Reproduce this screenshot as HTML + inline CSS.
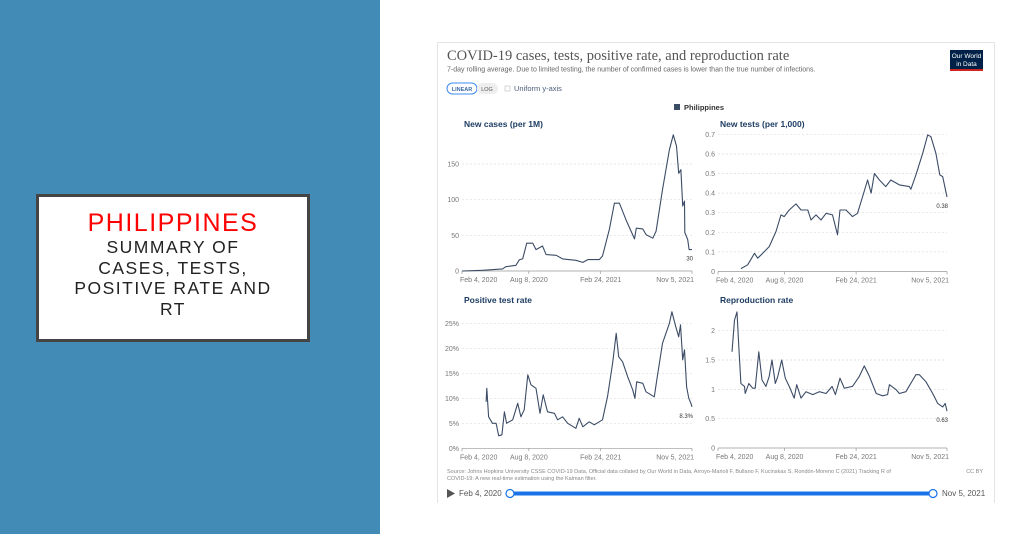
<!DOCTYPE html>
<html><head><meta charset="utf-8">
<style>
body{margin:0;width:1023px;height:534px;overflow:hidden;background:#fff;font-family:"Liberation Sans",sans-serif;position:relative}
#left{position:absolute;left:0;top:0;width:380px;height:534px;background:#428bb6}
#box{position:absolute;left:36px;top:194px;width:268px;height:142px;background:#fff;border:3px solid #444;text-align:center}
#box .t1{color:#f00;font-size:25px;letter-spacing:1.5px;margin-top:12px;line-height:28px}
#box .t2{color:#222;font-size:17.5px;letter-spacing:1.5px;line-height:20.5px}
#card{position:absolute;left:437px;top:42px;width:556px;height:460px;border:1px solid #e4e4e4;border-bottom:none}
svg{position:absolute;left:0;top:0}
</style></head><body>
<div id="left"></div>
<div id="box">
<div class="t1">PHILIPPINES</div>
<div class="t2">SUMMARY OF<br>CASES, TESTS,<br>POSITIVE RATE AND<br>RT</div>
</div>
<div id="card"></div>
<svg id="chart" width="1023" height="534">
<text x="447" y="60" font-family="Liberation Serif,serif" font-size="14.5" fill="#555">COVID-19 cases, tests, positive rate, and reproduction rate</text>
<text x="447" y="71.5" font-size="7" fill="#666">7-day rolling average. Due to limited testing, the number of confirmed cases is lower than the true number of infections.</text>
<g><rect x="950" y="50" width="33" height="20" fill="#002147"/><rect x="950" y="69" width="33" height="2" fill="#ce261e"/>
<text x="966.5" y="58" font-size="6.5" fill="#fff" text-anchor="middle">Our World</text><text x="966.5" y="66" font-size="6.5" fill="#fff" text-anchor="middle">in Data</text></g>
<g><rect x="447" y="83" width="30" height="11" rx="5.5" fill="#fff" stroke="#3d8cf0"/><text x="462" y="91" font-size="5.5" fill="#3d6aa8" text-anchor="middle" font-weight="bold">LINEAR</text></g>
<g><rect x="477" y="83" width="21" height="11" rx="5.5" fill="#eee"/><text x="487" y="91" font-size="5.5" fill="#555" text-anchor="middle">LOG</text></g>
<g><rect x="505" y="86" width="5" height="5" fill="#fff" stroke="#bbb" stroke-width="0.6"/><text x="514" y="91" font-size="7.5" fill="#4a5d7a">Uniform y-axis</text></g>
<g><rect x="674" y="104" width="6" height="6" fill="#3c4c66"/><text x="684" y="110" font-size="7.5" fill="#333" font-weight="bold">Philippines</text></g>
<g id="panels"></g>
<text x="447" y="473" font-size="5.5" fill="#888">Source: Johns Hopkins University CSSE COVID-19 Data, Official data collated by Our World in Data, Arroyo-Marioli F, Bullano F, Kucinskas S, Rondón-Moreno C (2021) Tracking R of</text>
<text x="447" y="480" font-size="5.5" fill="#888">COVID-19: A new real-time estimation using the Kalman filter.</text>
<text x="983" y="473" font-size="5.5" fill="#888" text-anchor="end">CC BY</text>
<polygon points="447,489 447,498 455,493.5" fill="#555"/>
<text x="459" y="496" font-size="8" fill="#555">Feb 4, 2020</text>
<line x1="510" y1="493.5" x2="933" y2="493.5" stroke="#1a73e8" stroke-width="4"/>
<circle cx="510" cy="493.5" r="4" fill="#fff" stroke="#1a73e8" stroke-width="1.2"/>
<circle cx="933" cy="493.5" r="4" fill="#fff" stroke="#1a73e8" stroke-width="1.2"/>
<text x="942" y="496" font-size="8" fill="#555">Nov 5, 2021</text>
</svg>
<script>
const xTickDays=[0,186,386,640];
const xTickLabels=["Feb 4, 2020","Aug 8, 2020","Feb 24, 2021","Nov 5, 2021"];
const casesDays=[0,57,113,122,150,160,169,180,197,206,224,234,262,280,317,336,350,382,391,410,424,438,456,480,485,503,512,531,540,558,577,588,597,603,609,614,619,620,628,632,640];
const casesVals=[0,1,3,6,8,16,17,39,39,30,35,23,22,17,15,12,16,16,21,58,95,95,72,45,60,59,51,46,56,114,170,191,175,137,142,91,98,54,44,30,30];
const testsDays=[64,83,102,111,125,143,162,176,185,199,218,232,251,260,274,288,302,320,328,334,341,358,376,390,404,418,428,437,451,469,483,507,535,539,553,572,586,595,609,620,628,640];
const testsVals=[0.015,0.034,0.093,0.068,0.093,0.127,0.204,0.289,0.28,0.314,0.345,0.314,0.314,0.263,0.289,0.263,0.297,0.289,0.23,0.187,0.314,0.314,0.28,0.297,0.382,0.467,0.4,0.5,0.467,0.433,0.467,0.442,0.433,0.42,0.493,0.603,0.697,0.688,0.603,0.493,0.484,0.38];
const posDays=[67,69,74,85,95,102,111,118,124,141,155,164,173,183,192,206,217,226,238,257,266,280,294,317,326,336,354,368,391,405,419,429,436,447,461,475,481,486,503,512,535,542,558,577,584,595,603,608,614,619,625,631,637,640];
const posVals=[9.3,12,6.3,5,5,2.5,2.7,7.3,5,5.7,9,6.3,7.7,14.7,12.7,12,7,10.7,7.3,7,5.7,6.3,5,4,6,4.3,5.3,4.7,5.7,10.3,17,23,18.3,17.3,14.3,11.7,10,13.3,13,11.3,10.3,13.7,21,25,27.3,24.3,22.3,24.7,17.7,19.7,12.3,10,9,8.3];
const rDays=[39,46,53,58,64,74,76,86,97,104,114,123,134,143,151,160,167,178,188,199,213,220,232,246,265,283,302,319,328,341,353,376,395,409,423,442,460,474,479,497,507,525,553,563,581,600,614,628,635,640];
const rVals=[1.64,2.18,2.32,1.73,1.1,1.05,0.93,1.1,1.02,1.02,1.64,1.16,1.05,1.22,1.5,1.1,1.22,1.5,1.19,1.05,0.85,1.08,0.85,0.96,0.91,0.96,0.93,1.05,0.91,1.19,1.02,1.05,1.22,1.4,1.22,0.93,0.89,0.91,1.08,1.0,0.93,0.96,1.25,1.25,1.13,0.93,0.76,0.7,0.76,0.63];
const casesTicks=[0,50,100,150];
const testsTicks=[0,0.1,0.2,0.3,0.4,0.5,0.6,0.7];
const posTicks=[0,5,10,15,20,25];
const rTicks=[0,0.5,1,1.5,2];
const NS="http://www.w3.org/2000/svg";
const g=document.getElementById('panels');
function mk(tag,attrs,parent){const e=document.createElementNS(NS,tag);for(const k in attrs)e.setAttribute(k,attrs[k]);(parent||g).appendChild(e);return e;}
function panel(name,title,titleY,x0,x1,y0,yTop,vTop,ticks,fmt,days,vals,endLabel){
  const grp=mk('g',{});
  
  
  const xs=d=>x0+d/640*(x1-x0);
  const ys=v=>y0-v/vTop*(y0-yTop);
  const t=mk('text',{x:x0+2,y:titleY,'font-size':8.5,fill:'#1d3d63','font-weight':'bold'},grp);
  t.textContent=title;
  
  
  ticks.forEach(v=>{
    const y=ys(v);
    if(v!==0){const l=mk('line',{x1:x0,x2:x1,y1:y,y2:y,stroke:'#ddd','stroke-width':0.7,'stroke-dasharray':'2,2'},grp);
    
    }
    const tl=mk('text',{x:x0-3,y:y+2.5,'font-size':7,fill:'#777','text-anchor':'end'},grp);
    tl.textContent=fmt(v);
    
    
  });
  const ax=mk('line',{x1:x0,x2:x1,y1:y0,y2:y0,stroke:'#999','stroke-width':0.7},grp);
  
  
  xTickDays.forEach((d,i)=>{
    const x=xs(d);
    mk('line',{x1:x,x2:x,y1:y0,y2:y0+3,stroke:'#999','stroke-width':0.7},grp);
    const anchor=i===0?'start':(i===xTickDays.length-1?'end':'middle');
    const tl=mk('text',{x:i===0?x-2:(i===3?x+2:x),y:y0+11,'font-size':7,fill:'#777','text-anchor':anchor},grp);
    tl.textContent=xTickLabels[i];
    
    
  });
  let d='';days.forEach((dd,i)=>{d+=(i?'L':'M')+xs(dd).toFixed(1)+','+ys(vals[i]).toFixed(1);});
  const p=mk('path',{d:d,fill:'none',stroke:'#3c4c66','stroke-width':1.1,'stroke-linejoin':'round'},grp);
  
  
  const el=mk('text',{x:x1+1,y:ys(vals[vals.length-1])+11,'font-size':6,fill:'#333','text-anchor':'end'},grp);
  el.textContent=endLabel;
  
  
}
panel('cases','New cases (per 1M)',127,462,692,271,164,150,casesTicks,v=>String(v),casesDays,casesVals,'30');
panel('tests','New tests (per 1,000)',127,718,947,271.5,134.3,0.7,testsTicks,v=>v===0?'0':v.toFixed(1),testsDays,testsVals,'0.38');
panel('positive','Positive test rate',303,462,692,448.3,323.3,25,posTicks,v=>v+'%',posDays,posVals,'8.3%');
panel('r','Reproduction rate',303,718,947,448,330.7,2,rTicks,v=>String(v),rDays,rVals,'0.63');
</script>
</body></html>
